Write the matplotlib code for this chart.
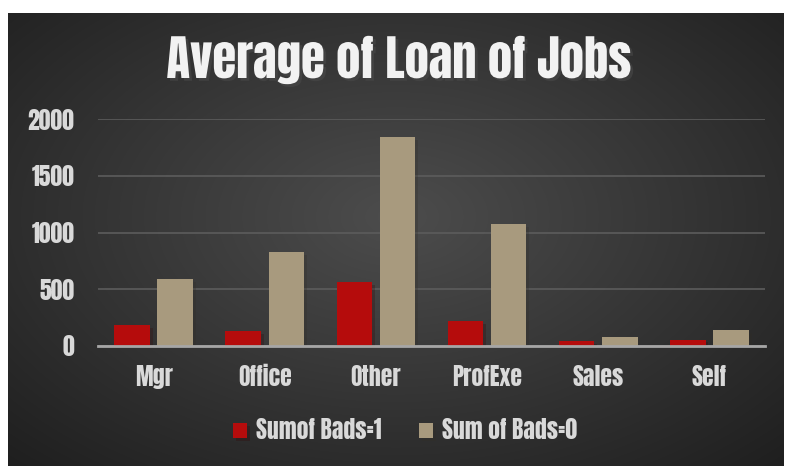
import numpy as np
import matplotlib
matplotlib.use('Agg')
import matplotlib.pyplot as plt
import matplotlib.patheffects as pe

# データ
jobs = ['Mgr', 'Office', 'Other', 'ProfExe', 'Sales', 'Self']
bads_1 = [185, 132, 564, 220, 40, 57]
bads_0 = [590, 828, 1841, 1075, 75, 137]
labels = ['Sumof Bads=1', 'Sum of Bads=0']
yticks = [0, 500, 1000, 1500, 2000]

plt.rcParams['font.family'] = ['Anton', 'DejaVu Sans']

W, H = 785, 466
fig = plt.figure(figsize=(W / 100, H / 100), dpi=100)
fig.patch.set_facecolor('white')

# 背景（放射状グラデーション）
bg = fig.add_axes([8 / W, 0, (784 - 8) / W, (466 - 13) / H])
gx, gy = np.meshgrid(np.linspace(-1, 1, 400), np.linspace(-1, 1, 240))
r = np.sqrt((gx * 0.95) ** 2 + ((gy + 0.1) * 0.9) ** 2)
shade = 0.30 - 0.13 * np.clip(r, 0, 1.4)
bg.imshow(np.dstack([shade] * 3), aspect='auto', extent=[0, 1, 0, 1], interpolation='bilinear')
bg.set_axis_off()

ax = fig.add_axes([98 / W, (466 - 346) / H, (765 - 98) / W, (346 - 119) / H])
ax.set_facecolor('none')

x = np.arange(len(jobs))
w = 0.32
off = 0.194
shadow = [pe.SimplePatchShadow(offset=(2, -2), alpha=0.25), pe.Normal()]
b1 = ax.bar(x - off, bads_1, w, color='#b50c0c', label=labels[0], zorder=3)
b2 = ax.bar(x + off, bads_0, w, color='#a89a7e', label=labels[1], zorder=3)
for b in list(b1) + list(b2):
    b.set_path_effects(shadow)

ax.set_xlim(-0.5, len(jobs) - 0.5)
ax.set_ylim(0, 2000)
ax.set_yticks(yticks)
ax.set_xticks(x)
ax.set_xticklabels(jobs)
ax.grid(axis='y', color='#5c5c5c', linewidth=1.2, zorder=0)
ax.set_axisbelow(True)
for s in ['top', 'right', 'left']:
    ax.spines[s].set_visible(False)
ax.spines['bottom'].set_color('#a6a6a6')
ax.spines['bottom'].set_linewidth(2)
ax.spines['bottom'].set_zorder(4)
ax.tick_params(axis='both', length=0, colors='#d9d9d9', labelsize=17)
ax.tick_params(axis='y', pad=17)
ax.tick_params(axis='x', pad=14)

fig.text(399 / W, 1 - 60 / H, 'Average of Loan of Jobs', color='#f2f2f2',
         fontsize=35, ha='center', va='center',
         path_effects=[pe.withSimplePatchShadow(offset=(2, -2), alpha=0.6)])

leg = fig.legend(loc='center', bbox_to_anchor=(405 / W, 1 - 430 / H), ncol=2,
                 frameon=False, fontsize=17, labelcolor='#d9d9d9',
                 handlelength=0.6, handleheight=0.6, handletextpad=0.35, columnspacing=1.6)

fig.savefig('out.png', dpi=100, facecolor=fig.get_facecolor())
